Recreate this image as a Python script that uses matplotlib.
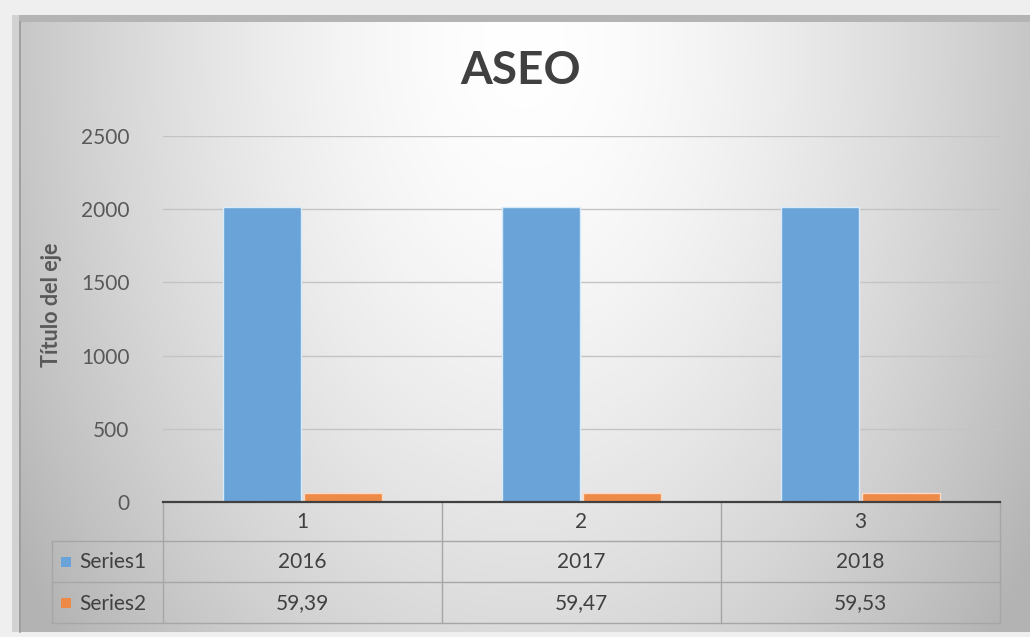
import numpy as np
import matplotlib
matplotlib.use("Agg")
import matplotlib.pyplot as plt
from matplotlib.lines import Line2D
from matplotlib.patches import Rectangle

# ---- data ----
categories = ["1", "2", "3"]
series_names = ["Series1", "Series2"]
series1 = [2016, 2017, 2018]
series2 = [59.39, 59.47, 59.53]
series2_labels = ["59,39", "59,47", "59,53"]
yticks = [0, 500, 1000, 1500, 2000, 2500]
title = "ASEO"
ylabel = "Título del eje"

W, H = 1030, 637
plt.rcParams['font.family'] = ['Lato', 'DejaVu Sans']
fig = plt.figure(figsize=(W / 100, H / 100), dpi=100, facecolor="#efefef")

def fx(px):
    return px / W

def fy(py):
    return 1 - py / H

# ---- background gradient (chart area) ----
cx0, cy0, cx1, cy1 = 19, 15, 1030, 632
bg = fig.add_axes([fx(cx0), fy(cy1), fx(cx1 - cx0), (cy1 - cy0) / H], zorder=0)
gx = np.linspace(-1, 1, 400)
gy = np.linspace(0, 1, 250)
X, Y = np.meshgrid(gx, gy)
d = np.sqrt((X / 1.0) ** 2 + ((Y - 0.05) / 1.25) ** 2)
val = 1.0 - 0.22 * np.clip(d, 0, 1.2) ** 1.6
img = np.dstack([val, val, val])
bg.imshow(img, aspect="auto", extent=[0, 1, 1, 0], interpolation="bilinear")
bg.set_xlim(0, 1)
bg.set_ylim(1, 0)
bg.axis("off")
# top shadow band and left border
fig.add_artist(Rectangle((fx(cx0), fy(22)), fx(cx1 - cx0), 7 / H,
                         transform=fig.transFigure, facecolor="#b4b4b4",
                         edgecolor="none", zorder=1))
fig.add_artist(Rectangle((fx(12), fy(cy1)), fx(7), (cy1 - 15) / H,
                         transform=fig.transFigure, facecolor="#d2d2d2",
                         edgecolor="none", zorder=1))
fig.add_artist(Line2D([fx(19.5), fx(19.5)], [fy(cy1), fy(22)],
                      transform=fig.transFigure, color="#9a9a9a", lw=1.2, zorder=1))

# ---- main plot area ----
L, R, T, B = 163, 1000, 136, 502
ax = fig.add_axes([fx(L), fy(B), fx(R - L), (B - T) / H], zorder=2)
ax.patch.set_alpha(0)
x = np.arange(len(categories))
bw = 0.28
ax.bar(x - 0.145, series1, width=bw, color="#6aa3d8", edgecolor="#d9ebfa",
       linewidth=1.0, zorder=3)
ax.bar(x + 0.145, series2, width=bw, color="#ee8a48", edgecolor="#fbd9c2",
       linewidth=1.0, zorder=3)
ax.set_xlim(-0.5, len(categories) - 0.5)
ax.set_ylim(0, 2500)
ax.set_yticks(yticks)
ax.set_yticklabels([str(t) for t in yticks], fontsize=15, color="#595959")
ax.tick_params(axis="y", length=0, pad=24)
ax.set_xticks([])
ax.grid(axis="y", color="#c4c4c4", linewidth=1.0, zorder=1)
for s in ["top", "right", "left"]:
    ax.spines[s].set_visible(False)
ax.spines["bottom"].set_color("#404040")
ax.spines["bottom"].set_linewidth(1.6)
ax.spines["bottom"].set_zorder(4)

fig.text(fx(52), fy(305), ylabel, rotation=90, ha="center", va="center",
         fontsize=15.5, fontweight="bold", color="#595959")
fig.text(fx(521), fy(71), title, ha="center", va="center", fontsize=33,
         fontweight="bold", color="#404040")

# ---- data table ----
rows_y = [502, 541, 582, 623]
line_c = "#a6a6a6"
trans = matplotlib.transforms.blended_transform_factory(ax.transData, fig.transFigure)
# vertical category boundaries
for b in np.arange(len(categories) + 1) - 0.5:
    ax.add_artist(Line2D([b, b], [fy(rows_y[0]), fy(rows_y[-1])], transform=trans,
                         color=line_c, lw=1.0, clip_on=False))
# horizontal lines
for ry in rows_y[1:]:
    fig.add_artist(Line2D([fx(52), fx(R)], [fy(ry), fy(ry)],
                          transform=fig.transFigure, color=line_c, lw=1.0))
fig.add_artist(Line2D([fx(52), fx(52)], [fy(rows_y[1]), fy(rows_y[-1])],
                      transform=fig.transFigure, color=line_c, lw=1.0))

txt_c = "#404040"
fs = 15
for i, c in enumerate(categories):
    ax.text(x[i], fy((rows_y[0] + rows_y[1]) / 2 + 1), c, transform=trans,
            ha="center", va="center", fontsize=fs, color=txt_c)
    ax.text(x[i], fy((rows_y[1] + rows_y[2]) / 2 + 1), str(series1[i]),
            transform=trans, ha="center", va="center", fontsize=fs, color=txt_c)
    ax.text(x[i], fy((rows_y[2] + rows_y[3]) / 2 + 1), series2_labels[i],
            transform=trans, ha="center", va="center", fontsize=fs, color=txt_c)

colors = ["#6aa3d8", "#ee8a48"]
for j, name in enumerate(series_names):
    yc = (rows_y[j + 1] + rows_y[j + 2]) / 2
    fig.add_artist(Rectangle((fx(61), fy(yc + 5)), fx(10), 10 / H,
                             transform=fig.transFigure, facecolor=colors[j],
                             edgecolor="none"))
    fig.text(fx(79), fy(yc + 1), name, ha="left", va="center", fontsize=fs,
             color=txt_c)

fig.savefig("out.png", dpi=100, facecolor=fig.get_facecolor())
